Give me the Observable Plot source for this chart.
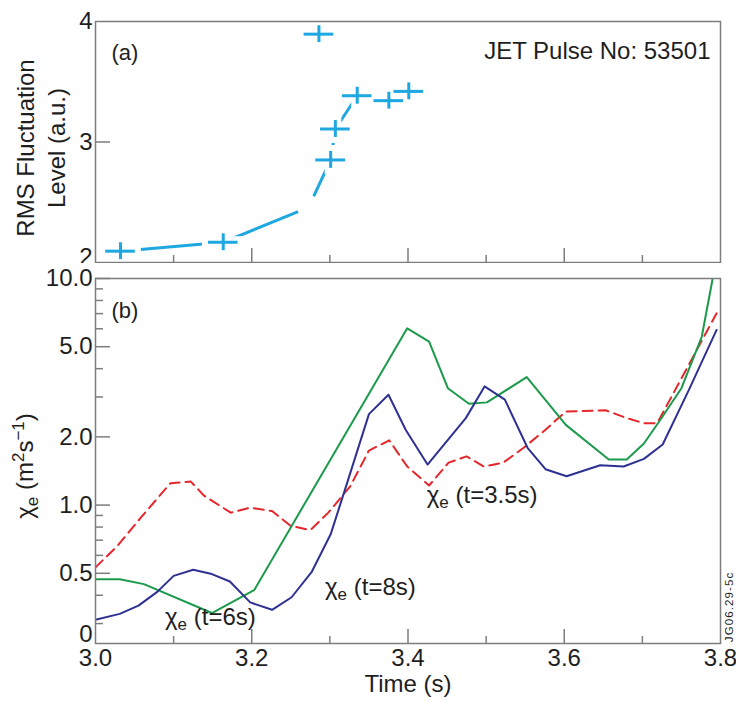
<!DOCTYPE html>
<html><head><meta charset="utf-8">
<script src="https://cdn.jsdelivr.net/npm/d3@7"></script>
<script src="https://cdn.jsdelivr.net/npm/@observablehq/plot@0.6"></script>
<style>
body{margin:0;background:#fff;}
#chart{position:relative;width:736px;height:702px;}
#chart svg{position:absolute;left:0;overflow:visible;display:block;}
</style></head><body><div id="chart"></div>
<script>
// ---------- Panel (a): RMS fluctuation level ----------
const fluctTime  = [3.032, 3.1635, 3.286, 3.301, 3.307, 3.335, 3.3755, 3.401];
const fluctLevel = [2.094, 2.168, 3.895, 2.851, 3.108, 3.384, 3.343, 3.420];
const fluctTimeErr = 0.019;
const fluctLevelErr = 0.07;
const trendTime  = [3.032, 3.1635, 3.26, 3.28, 3.301, 3.307, 3.335];
const trendLevel = [2.094, 2.168, 2.423, 2.56, 2.851, 3.108, 3.384];
const aTicksY = [2, 3, 4];

// ---------- Panel (b): chi_e ----------
const greenTime = [3.0, 3.031, 3.062, 3.149, 3.203, 3.399, 3.427, 3.451, 3.478, 3.501, 3.552, 3.602, 3.657, 3.680, 3.702, 3.723, 3.750, 3.776, 3.79];
const greenChi  = [0.471, 0.471, 0.448, 0.334, 0.421, 6.03, 5.26, 3.28, 2.80, 2.84, 3.67, 2.26, 1.59, 1.59, 1.87, 2.38, 3.28, 5.53, 10.0];
const blueTime  = [3.0, 3.031, 3.055, 3.079, 3.100, 3.125, 3.149, 3.172, 3.198, 3.226, 3.251, 3.277, 3.301, 3.322, 3.350, 3.375, 3.397, 3.425, 3.474, 3.498, 3.524, 3.553, 3.576, 3.603, 3.646, 3.676, 3.702, 3.726, 3.76, 3.795];
const blueChi   = [0.312, 0.331, 0.360, 0.414, 0.487, 0.518, 0.496, 0.460, 0.372, 0.345, 0.392, 0.509, 0.743, 1.25, 2.52, 3.07, 2.15, 1.51, 2.42, 3.34, 2.92, 1.79, 1.44, 1.34, 1.50, 1.48, 1.60, 1.85, 3.25, 5.93];
const redTime   = [3.0, 3.028, 3.058, 3.096, 3.122, 3.139, 3.173, 3.198, 3.226, 3.250, 3.275, 3.298, 3.326, 3.350, 3.376, 3.399, 3.427, 3.452, 3.475, 3.497, 3.522, 3.548, 3.576, 3.602, 3.653, 3.680, 3.702, 3.719, 3.749, 3.795];
const redChi    = [0.531, 0.660, 0.880, 1.25, 1.27, 1.10, 0.926, 0.974, 0.941, 0.809, 0.776, 0.926, 1.21, 1.74, 1.93, 1.48, 1.22, 1.54, 1.64, 1.48, 1.54, 1.79, 2.15, 2.59, 2.62, 2.42, 2.30, 2.30, 3.57, 7.02];
const chiMin = 0.245;
const bTicksY = [0.5, 1, 2, 5, 10];
const bMinorY = [0.3, 0.4, 0.6, 0.7, 0.8, 0.9, 3, 4, 6, 7, 8, 9];
const timeTicks = [3.0, 3.2, 3.4, 3.6, 3.8];
const timeMajor = [3.2, 3.4, 3.6];
const timeMinor = [3.1, 3.3, 3.5, 3.7];
const curveLabels = [
  {t: 3.0896, v: 0.293, txt: " (t=6s)"},
  {t: 3.2944, v: 0.401, txt: " (t=8s)"},
  {t: 3.4246, v: 1.017, txt: " (t=3.5s)"}
];

(function () {
const FONT = '"Liberation Sans", Arial, Helvetica, sans-serif';
const CYAN = "#1ea7e1", GREEN = "#1c9a4b", NAVY = "#2e3192", RED = "#e5262b";
const GRAY = "#7d7d7d", INK = "#1e1e1e";
const W = 736, ML = 95, MR = 16;
const FW = W - ML - MR;

const zip = (ts, vs) => ts.map((t, i) => ({t, v: vs[i]}));
const fluct = zip(fluctTime, fluctLevel);
const trend = zip(trendTime, trendLevel);

// ---- top panel ----
const aH = 270, aMT = 21, aMB = 8, aFH = aH - aMT - aMB;
const plotA = Plot.plot({
  width: W, height: aH, marginTop: aMT, marginBottom: aMB, marginLeft: ML, marginRight: MR,
  style: {fontFamily: FONT, fontSize: "24px", color: INK, background: "transparent", overflow: "visible"},
  x: {domain: [3.0, 3.8], axis: null},
  y: {domain: [2, 4]},
  marks: [
    Plot.line(trend, {x: "t", y: "v", stroke: CYAN, strokeWidth: 3, strokeDasharray: "184,22,400,0", strokeLinecap: "butt"}),
    Plot.ruleY(fluct, {y: "v", x1: d => d.t - fluctTimeErr, x2: d => d.t + fluctTimeErr, stroke: "white", strokeWidth: 12, strokeLinecap: "square"}),
    Plot.ruleX(fluct, {x: "t", y1: d => d.v - fluctLevelErr, y2: d => d.v + fluctLevelErr, stroke: "white", strokeWidth: 12, strokeLinecap: "square"}),
    Plot.ruleY(fluct, {y: "v", x1: d => d.t - fluctTimeErr, x2: d => d.t + fluctTimeErr, stroke: CYAN, strokeWidth: 3}),
    Plot.ruleX(fluct, {x: "t", y1: d => d.v - fluctLevelErr, y2: d => d.v + fluctLevelErr, stroke: CYAN, strokeWidth: 3}),
    Plot.tickX(timeMajor, {x: d => d, stroke: GRAY, strokeWidth: 1.5, insetTop: aFH - 14}),
    Plot.tickX(timeMinor, {x: d => d, stroke: GRAY, strokeWidth: 1.5, insetTop: aFH - 7}),
    Plot.tickY([3], {y: d => d, stroke: GRAY, strokeWidth: 1.5, insetRight: FW - 15}),
    Plot.frame({stroke: GRAY, strokeWidth: 1.5}),
    Plot.axisY([3, 4], {anchor: "left", tickSize: 0, tickPadding: 3, label: null, fill: INK, tickFormat: d => String(d)}),
    Plot.axisY([2], {anchor: "left", tickSize: 0, tickPadding: 3, label: null, fill: INK, dy: -5, tickFormat: d => String(d)}),
    Plot.text(["(a)"], {frameAnchor: "top-left", dx: 16, dy: 23, text: d => d, textAnchor: "start", fontSize: 22, fill: INK}),
    Plot.text(["JET Pulse No: 53501"], {frameAnchor: "top-right", dx: -10, dy: 20, text: d => d, textAnchor: "end", fontSize: 24, fill: INK})
  ]
});
plotA.style.top = "0px";

// ---- bottom panel ----
const bTop = 263, bH = 702 - bTop, bMT = 15, bMB = 59, bFH = bH - bMT - bMB;
const plotB = Plot.plot({
  width: W, height: bH, marginTop: bMT, marginBottom: bMB, marginLeft: ML, marginRight: MR,
  style: {fontFamily: FONT, fontSize: "24px", color: INK, background: "white", overflow: "visible"},
  x: {domain: [3.0, 3.8]},
  y: {type: "log", domain: [chiMin, 10]},
  marks: [
    Plot.line(zip(redTime, redChi), {x: "t", y: "v", stroke: RED, strokeWidth: 2, strokeDasharray: "10,6", clip: true}),
    Plot.line(zip(greenTime, greenChi), {x: "t", y: "v", stroke: GREEN, strokeWidth: 2, clip: true}),
    Plot.line(zip(blueTime, blueChi), {x: "t", y: "v", stroke: NAVY, strokeWidth: 2, clip: true}),
    Plot.tickX(timeMajor, {x: d => d, stroke: GRAY, strokeWidth: 1.5, insetTop: bFH - 14}),
    Plot.tickX(timeMinor, {x: d => d, stroke: GRAY, strokeWidth: 1.5, insetTop: bFH - 7}),
    Plot.tickY(bTicksY, {y: d => d, stroke: GRAY, strokeWidth: 1.5, insetRight: FW - 15}),
    Plot.tickY(bMinorY, {y: d => d, stroke: GRAY, strokeWidth: 1.5, insetRight: FW - 8}),
    Plot.frame({stroke: GRAY, strokeWidth: 1.5}),
    Plot.axisY(bTicksY, {anchor: "left", tickSize: 0, tickPadding: 3, label: null, fill: INK,
      tickFormat: d => d.toFixed(1)}),
    Plot.axisY([chiMin], {anchor: "left", tickSize: 0, tickPadding: 3, label: null, fill: INK, dy: -9,
      tickFormat: () => "0"}),
    Plot.axisX(timeTicks, {anchor: "bottom", tickSize: 0, tickPadding: 5, label: null, fill: INK,
      tickFormat: d => d.toFixed(1)}),
    Plot.text(["Time (s)"], {frameAnchor: "bottom", dy: 48, text: d => d, fontSize: 24, fill: INK}),
    Plot.text(["(b)"], {frameAnchor: "top-left", dx: 16, dy: 24, text: d => d, textAnchor: "start", fontSize: 22, fill: INK})
  ]
});
plotB.style.top = bTop + "px";

const chart = document.getElementById("chart");
chart.appendChild(plotA);
chart.appendChild(plotB);

// rich-text annotations (subscripts / superscripts) positioned via Plot's scales
const sx = plotB.scale("x"), sy = plotB.scale("y");
const bsvg = d3.select(plotB);
curveLabels.forEach(l => {
  const t = bsvg.append("text")
    .attr("x", sx.apply(l.t)).attr("y", sy.apply(l.v))
    .attr("text-anchor", "start")
    .attr("font-family", FONT).attr("font-size", 24).attr("fill", INK);
  t.append("tspan").text("χ");
  t.append("tspan").attr("font-size", 17).attr("dy", 5).text("e");
  t.append("tspan").attr("dy", -5).text(l.txt);
});

// y-axis title of panel (b)
const yl = bsvg.append("text")
  .attr("transform", `translate(33,${466 - bTop}) rotate(-90)`)
  .attr("text-anchor", "middle")
  .attr("font-family", FONT).attr("font-size", 24).attr("fill", INK);
yl.append("tspan").text("χ");
yl.append("tspan").attr("font-size", 17).attr("dy", 5).text("e");
yl.append("tspan").attr("dy", -5).text(" (m");
yl.append("tspan").attr("font-size", 17).attr("dy", -9).text("2");
yl.append("tspan").attr("dy", 9).text("s");
yl.append("tspan").attr("font-size", 17).attr("dy", -9).text("−1");
yl.append("tspan").attr("dy", 9).text(")");

// side reference code
bsvg.append("text")
  .attr("transform", `translate(729,${607 - bTop}) rotate(-90)`)
  .attr("text-anchor", "middle").attr("dominant-baseline", "central")
  .attr("font-family", FONT).attr("font-size", 11.5).attr("letter-spacing", 1.1).attr("fill", INK)
  .text("JG06.29-5c");

// y-axis title of panel (a)
const tsvg = d3.select(plotA);
[["RMS Fluctuation", 34], ["Level (a.u.)", 65]].forEach(([s, x]) => {
  tsvg.append("text")
    .attr("transform", `translate(${x},148) rotate(-90)`)
    .attr("text-anchor", "middle")
    .attr("font-family", FONT).attr("font-size", 24).attr("fill", INK)
    .text(s);
});
})();
</script>
</body></html>
